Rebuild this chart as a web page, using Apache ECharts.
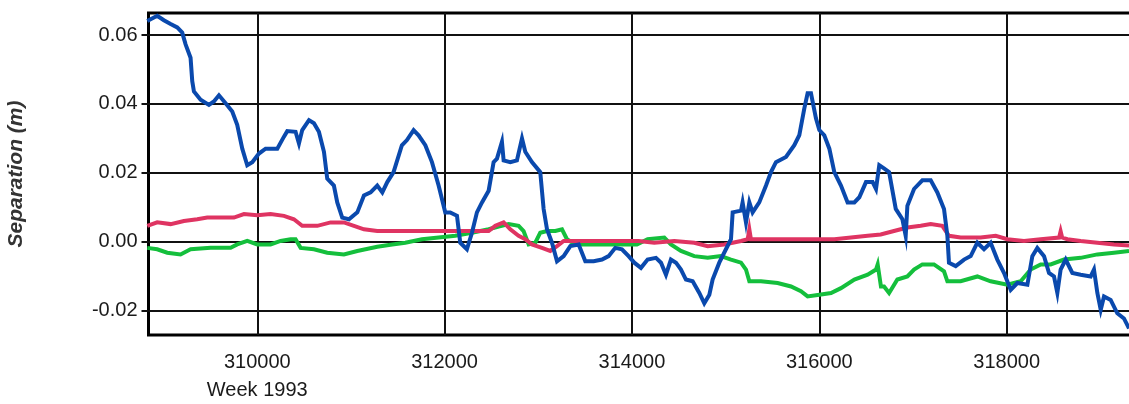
<!DOCTYPE html>
<html>
<head>
<meta charset="utf-8">
<script src="https://cdn.jsdelivr.net/npm/echarts@6/dist/echarts.min.js"></script>
<style>
  html, body { margin: 0; padding: 0; background: #fff; }
  #chart { width: 1129px; height: 404px; }
</style>
</head>
<body>
<div id="chart"></div>
<script>
// Baseline separation traces, [time, separation in metres]
const blueSeries = [
  [308826, 0.0641], [308932, 0.0656], [309003, 0.0643], [309075, 0.0632], [309146, 0.0622],
  [309199, 0.0607], [309235, 0.0573], [309288, 0.0534], [309306, 0.0466], [309324, 0.0436],
  [309395, 0.0412], [309484, 0.0397], [309537, 0.0407], [309591, 0.0425], [309662, 0.0402],
  [309733, 0.0378], [309786, 0.0339], [309840, 0.0270], [309893, 0.0222], [309947, 0.0231],
  [310018, 0.0256], [310089, 0.0270], [310214, 0.0270], [310285, 0.0305], [310320, 0.0321],
  [310409, 0.0319], [310445, 0.0285], [310480, 0.0324], [310552, 0.0353], [310605, 0.0344],
  [310658, 0.0319], [310712, 0.0261], [310747, 0.0183], [310818, 0.0163], [310854, 0.0114],
  [310907, 0.0070], [310979, 0.0065], [311068, 0.0085], [311139, 0.0134], [311210, 0.0143],
  [311281, 0.0163], [311335, 0.0143], [311388, 0.0173], [311455, 0.0202], [311544, 0.0280],
  [311598, 0.0295], [311669, 0.0324], [311722, 0.0309], [311794, 0.0280], [311865, 0.0231],
  [311936, 0.0163], [312007, 0.0085], [312060, 0.0085], [312132, 0.0075], [312167, -0.0003],
  [312238, -0.0022], [312292, 0.0026], [312345, 0.0085], [312399, 0.0114], [312470, 0.0148],
  [312523, 0.0231], [312559, 0.0241], [312612, 0.0290], [312630, 0.0236], [312701, 0.0231],
  [312772, 0.0236], [312826, 0.0300], [312861, 0.0261], [312932, 0.0231], [313021, 0.0202],
  [313057, 0.0095], [313093, 0.0036], [313146, -0.0003], [313200, -0.0057], [313271, -0.0042],
  [313342, -0.0013], [313431, -0.0008], [313502, -0.0057], [313591, -0.0057], [313680, -0.0052],
  [313751, -0.0042], [313822, -0.0018], [313893, -0.0022], [313964, -0.0042], [314025, -0.0061],
  [314096, -0.0076], [314167, -0.0052], [314256, -0.0047], [314310, -0.0061], [314363, -0.0096],
  [314416, -0.0052], [314470, -0.0061], [314523, -0.0081], [314576, -0.0110], [314648, -0.0115],
  [314719, -0.0149], [314772, -0.0179], [314826, -0.0154], [314861, -0.0110], [314932, -0.0061],
  [315003, -0.0022], [315057, 0.0007], [315075, 0.0085], [315164, 0.0090], [315181, 0.0114],
  [315217, 0.0056], [315253, 0.0114], [315288, 0.0085], [315359, 0.0114], [315431, 0.0163],
  [315484, 0.0202], [315537, 0.0231], [315644, 0.0246], [315733, 0.0280], [315786, 0.0309],
  [315840, 0.0387], [315875, 0.0431], [315911, 0.0431], [315964, 0.0358], [316000, 0.0324],
  [316053, 0.0309], [316107, 0.0270], [316160, 0.0202], [316231, 0.0163], [316302, 0.0114],
  [316374, 0.0114], [316427, 0.0129], [316498, 0.0173], [316569, 0.0173], [316605, 0.0153],
  [316640, 0.0222], [316694, 0.0212], [316745, 0.0202], [316816, 0.0095], [316887, 0.0065],
  [316922, 0.0017], [316940, 0.0104], [317011, 0.0153], [317100, 0.0178], [317189, 0.0178],
  [317260, 0.0143], [317331, 0.0095], [317367, 0.0017], [317384, -0.0061], [317456, -0.0071],
  [317545, -0.0052], [317616, -0.0042], [317687, -0.0003], [317758, -0.0022], [317829, -0.0003],
  [317900, -0.0052], [317972, -0.0091], [318043, -0.0140], [318114, -0.0120], [318221, -0.0125],
  [318274, -0.0042], [318327, -0.0018], [318399, -0.0042], [318452, -0.0091], [318505, -0.0101],
  [318541, -0.0149], [318576, -0.0081], [318630, -0.0052], [318701, -0.0091], [318790, -0.0096],
  [318897, -0.0101], [318932, -0.0081], [318968, -0.0149], [319004, -0.0198], [319039, -0.0159],
  [319110, -0.0169], [319181, -0.0208], [319252, -0.0223], [319306, -0.0252]
];

const redSeries = [
  [308826, 0.0046], [308932, 0.0056], [309075, 0.0051], [309217, 0.0060], [309359, 0.0065],
  [309466, 0.0070], [309751, 0.0070], [309858, 0.0080], [310000, 0.0077], [310142, 0.0080],
  [310285, 0.0075], [310391, 0.0065], [310480, 0.0046], [310641, 0.0046], [310783, 0.0056],
  [310925, 0.0056], [311032, 0.0046], [311139, 0.0036], [311281, 0.0031], [311459, 0.0031],
  [311758, 0.0031], [312114, 0.0031], [312470, 0.0031], [312541, 0.0046], [312630, 0.0056],
  [312701, 0.0036], [312790, 0.0017], [312861, 0.0007], [312932, -0.0008], [313039, -0.0018],
  [313128, -0.0027], [313200, -0.0013], [313271, 0.0002], [313609, 0.0002], [314071, 0.0002],
  [314238, -0.0003], [314452, 0.0002], [314665, -0.0003], [314808, -0.0013], [314986, -0.0008],
  [315164, 0.0002], [315235, 0.0007], [315253, 0.0036], [315270, 0.0007], [315519, 0.0007],
  [315804, 0.0007], [316160, 0.0007], [316338, 0.0012], [316516, 0.0017], [316655, 0.0021],
  [316797, 0.0031], [316940, 0.0041], [317082, 0.0046], [317189, 0.0051], [317313, 0.0046],
  [317384, 0.0017], [317509, 0.0012], [317722, 0.0012], [317883, 0.0017], [318007, 0.0007],
  [318185, 0.0002], [318363, 0.0007], [318560, 0.0012], [318576, 0.0030], [318592, 0.0012],
  [318648, 0.0007], [318790, 0.0002], [318968, -0.0003], [319146, -0.0008], [319306, -0.0011]
];

const greenSeries = [
  [308826, -0.0018], [308932, -0.0022], [309039, -0.0032], [309181, -0.0037], [309288, -0.0022],
  [309502, -0.0018], [309715, -0.0018], [309786, -0.0008], [309893, 0.0002], [310000, -0.0008],
  [310142, -0.0008], [310249, 0.0002], [310356, 0.0007], [310409, 0.0007], [310463, -0.0018],
  [310605, -0.0022], [310747, -0.0032], [310925, -0.0037], [311068, -0.0027], [311281, -0.0015],
  [311441, -0.0008], [311580, -0.0003], [311758, 0.0007], [311936, 0.0012], [312114, 0.0017],
  [312292, 0.0026], [312470, 0.0036], [312577, 0.0044], [312684, 0.0051], [312790, 0.0046],
  [312843, 0.0031], [312897, -0.0008], [312968, -0.0003], [313021, 0.0026], [313093, 0.0031],
  [313182, 0.0031], [313253, 0.0036], [313306, 0.0007], [313395, -0.0008], [313715, -0.0008],
  [314053, -0.0008], [314167, 0.0007], [314345, 0.0012], [314416, -0.0008], [314523, -0.0027],
  [314665, -0.0042], [314808, -0.0047], [314950, -0.0042], [315057, -0.0052], [315164, -0.0061],
  [315217, -0.0081], [315253, -0.0115], [315377, -0.0115], [315555, -0.0120], [315698, -0.0130],
  [315804, -0.0144], [315875, -0.0159], [316000, -0.0154], [316125, -0.0149], [316231, -0.0135],
  [316374, -0.0110], [316516, -0.0096], [316605, -0.0081], [316623, -0.0066], [316658, -0.0130],
  [316691, -0.0130], [316745, -0.0149], [316833, -0.0110], [316940, -0.0101], [317011, -0.0081],
  [317100, -0.0066], [317224, -0.0066], [317331, -0.0086], [317367, -0.0115], [317509, -0.0115],
  [317687, -0.0101], [317829, -0.0115], [318007, -0.0125], [318150, -0.0115], [318256, -0.0081],
  [318363, -0.0066], [318470, -0.0066], [318612, -0.0052], [318790, -0.0047], [318968, -0.0037],
  [319146, -0.0032], [319306, -0.0027]
];

const xTickValues = [310000, 312000, 314000, 316000, 318000];
const yTickValues = [-0.02, 0.00, 0.02, 0.04, 0.06];
const xAxisExtent = [308839, 319498];
const yAxisExtent = [-0.0271, 0.0664];
const xUnitLabel = 'Week 1993';
const yTitle = 'Separation (m)';

const chart = echarts.init(document.getElementById('chart'), null, { renderer: 'canvas' });

const labelFont = {
  fontFamily: 'Liberation Sans, Arial, sans-serif',
  fontSize: 20,
  color: '#1a1a1a'
};

const gridLine = { show: true, lineStyle: { color: '#111', width: 2 } };

function lineSeries(name, data, color) {
  return {
    name: name,
    type: 'line',
    data: data,
    showSymbol: false,
    symbol: 'none',
    animation: false,
    lineStyle: { color: color, width: 4, join: 'miter' },
    z: 3
  };
}

chart.setOption({
  backgroundColor: '#ffffff',
  animation: false,
  grid: {
    left: 148.5,
    top: 13,
    bottom: 69,
    right: -18,
    show: true,
    borderColor: '#000',
    borderWidth: 3,
    backgroundColor: 'transparent',
    containLabel: false,
    outerBoundsMode: 'none'
  },
  xAxis: {
    type: 'value',
    min: xAxisExtent[0],
    max: xAxisExtent[1],
    axisLine: { show: false },
    axisTick: {
      show: true,
      inside: false,
      length: 8,
      customValues: xTickValues,
      lineStyle: { color: '#111', width: 2 }
    },
    splitLine: gridLine,
    axisLabel: {
      customValues: xTickValues,
      margin: 13,
      lineHeight: 28,
      ...labelFont,
      formatter: function (v) {
        return v === xTickValues[0] ? String(v) + '\n' + xUnitLabel : String(v);
      }
    }
  },
  yAxis: {
    type: 'value',
    min: yAxisExtent[0],
    max: yAxisExtent[1],
    name: yTitle,
    nameLocation: 'middle',
    nameGap: 122,
    nameTextStyle: {
      fontFamily: 'Liberation Sans, Arial, sans-serif',
      fontSize: 21,
      fontWeight: 'bold',
      fontStyle: 'italic',
      color: '#333'
    },
    axisLine: { show: false },
    axisTick: {
      show: true,
      inside: false,
      length: 7,
      customValues: yTickValues,
      lineStyle: { color: '#111', width: 2 }
    },
    splitLine: gridLine,
    axisLabel: {
      customValues: yTickValues,
      margin: 11,
      ...labelFont,
      formatter: function (v) { return v.toFixed(2); }
    }
  },
  series: [
    lineSeries('green', greenSeries, '#14bf3c'),
    lineSeries('red', redSeries, '#df3462'),
    lineSeries('blue', blueSeries, '#0a49ad')
  ]
});
</script>
</body>
</html>
